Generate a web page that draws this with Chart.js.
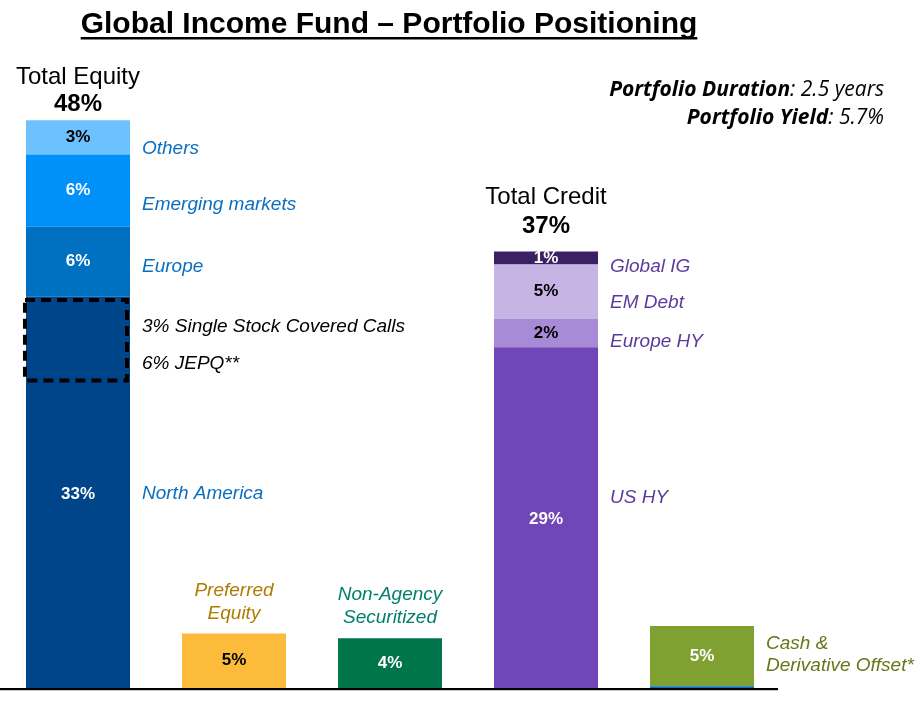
<!DOCTYPE html>
<html>
<head>
<meta charset="utf-8">
<script src="https://cdn.jsdelivr.net/npm/chart.js@4/dist/chart.umd.min.js"></script>
<style>
  html, body { margin: 0; padding: 0; background: #fff; }
  #wrap { width: 923px; height: 720px; }
</style>
</head>
<body>
<div id="wrap"><canvas id="myChart" width="923" height="720"></canvas></div>
<script>
// values, bottom segment first
var categories = ['Total Equity', 'Preferred Equity', 'Non-Agency Securitized', 'Total Credit', 'Cash & Derivative Offset'];

var equityNames = ['North America', 'Europe', 'Emerging markets', 'Others'];
var equityValues = [33.1, 5.9, 6.1, 2.9];

var creditNames = ['US HY', 'Europe HY', 'EM Debt', 'Global IG'];
var creditValues = [28.8, 2.4, 4.6, 1.1];

var singleNames = [['Preferred', 'Equity'], ['Non-Agency', 'Securitized'], ['Cash &', 'Derivative Offset*']];
var singleValues = [4.6, 4.2, 5.1];
var derivativeOffset = 0.15;

var coveredCallLines = ['3% Single Stock Covered Calls', '6% JEPQ**'];
var coveredCallRange = [26.0, 32.8];

var portfolioDuration = '2.5 years';
var portfolioYield = '5.7%';

var chartTitle = 'Global Income Fund \u2013 Portfolio Positioning';

// styles
var equityColors = ['#00458a', '#0070c0', '#0090fa', '#6ec1ff'];
var equityText = ['#fff', '#fff', '#fff', '#000'];
var creditColors = ['#7046b8', '#a88bd6', '#c6b4e4', '#3b2161'];
var creditText = ['#fff', '#000', '#000', '#fff'];
var singleColors = ['#fdbb3b', '#00754c', '#7ea132'];
var singleText = ['#000', '#fff', '#fff'];
var singleLabelColors = ['#b07b00', '#00806a', '#66771a'];
var equityLabelColor = '#0a6fc0';
var creditLabelColor = '#5c3b9c';

var ARIAL = '"Liberation Sans", Arial, sans-serif';

function seriesAt(index, value) {
    var arr = categories.map(function() { return null; });
    arr[index] = value;
    return arr;
}

var datasets = [];
equityValues.forEach(function(v, i) {
    datasets.push({ label: equityNames[i], data: seriesAt(0, v), backgroundColor: equityColors[i],
        textColor: equityText[i], sideLabel: equityNames[i], sideColor: equityLabelColor, cat: 0 });
});
datasets.push({ label: 'Preferred Equity', data: seriesAt(1, singleValues[0]), backgroundColor: singleColors[0],
    textColor: singleText[0], cat: 1 });
datasets.push({ label: 'Non-Agency Securitized', data: seriesAt(2, singleValues[1]), backgroundColor: singleColors[1],
    textColor: singleText[1], cat: 2 });
creditValues.forEach(function(v, i) {
    datasets.push({ label: creditNames[i], data: seriesAt(3, v), backgroundColor: creditColors[i],
        textColor: creditText[i], sideLabel: creditNames[i], sideColor: creditLabelColor, cat: 3 });
});
datasets.push({ label: 'Derivative Offset', data: seriesAt(4, derivativeOffset), backgroundColor: '#0a6fc0',
    noText: true, cat: 4 });
datasets.push({ label: 'Cash', data: seriesAt(4, singleValues[2]), backgroundColor: singleColors[2],
    textColor: singleText[2], cat: 4 });

datasets.forEach(function(ds) {
    ds.stack = 'all';
    ds.borderWidth = 0;
    ds.barPercentage = 1;
    ds.categoryPercentage = 104 / 156;
});

// label nudges (px) for the side texts, matching the slide
var sideNudge = {
    'Others': 11, 'Emerging markets': 14, 'Europe': 5, 'North America': 2,
    'Global IG': 9, 'EM Debt': 11, 'Europe HY': 9, 'US HY': -20
};
var valueNudge = { 'North America': 2, 'US HY': 2 };

var sum = function(a) { return a.reduce(function(s, v) { return s + v; }, 0); };

var overlay = {
    id: 'overlay',
    afterDatasetsDraw: function(chart) {
        var ctx = chart.ctx;
        var area = chart.chartArea;
        var y = chart.scales.y;
        ctx.save();
        ctx.textBaseline = 'middle';

        // values inside the bars
        chart.data.datasets.forEach(function(ds, i) {
            if (ds.noText) return;
            var el = chart.getDatasetMeta(i).data[ds.cat];
            var v = ds.data[ds.cat];
            var cy = (el.y + el.base) / 2 + (valueNudge[ds.label] || 0);
            ctx.font = 'bold 17px ' + ARIAL;
            ctx.fillStyle = ds.textColor;
            ctx.textAlign = 'center';
            ctx.fillText(Math.round(v) + '%', el.x, cy);

            if (ds.sideLabel) {
                ctx.font = 'italic 19px ' + ARIAL;
                ctx.fillStyle = ds.sideColor;
                ctx.textAlign = 'left';
                ctx.fillText(ds.sideLabel, el.x + el.width / 2 + 12, (el.y + el.base) / 2 + (sideNudge[ds.label] || 0));
            }
        });

        // group headers
        var heads = [
            { cat: 0, name: 'Total Equity', total: sum(equityValues), gapName: 43, gapTotal: 16 },
            { cat: 3, name: 'Total Credit', total: sum(creditValues), gapName: 54, gapTotal: 25 }
        ];
        heads.forEach(function(h) {
            var meta = chart.getDatasetMeta(0).data[h.cat];
            var top = y.getPixelForValue(h.total);
            ctx.fillStyle = '#000';
            ctx.textAlign = 'center';
            ctx.font = '24px ' + ARIAL;
            ctx.fillText(h.name, meta.x, top - h.gapName);
            ctx.font = 'bold 24px ' + ARIAL;
            ctx.fillText(Math.round(h.total) + '%', meta.x, top - h.gapTotal);
        });

        // names over / beside single bars
        ctx.font = 'italic 19px ' + ARIAL;
        [1, 2].forEach(function(cat, k) {
            var el = chart.getDatasetMeta(0).data[cat];
            var top = y.getPixelForValue(singleValues[k]);
            ctx.fillStyle = singleLabelColors[k];
            ctx.textAlign = 'center';
            var lift = k === 0 ? 43 : 44;
            ctx.fillText(singleNames[k][0], el.x, top - lift);
            ctx.fillText(singleNames[k][1], el.x, top - lift + 23);
        });
        var cashEl = chart.getDatasetMeta(0).data[4];
        ctx.fillStyle = singleLabelColors[2];
        ctx.textAlign = 'left';
        var cashTop = y.getPixelForValue(singleValues[2] + derivativeOffset);
        ctx.fillText(singleNames[2][0], cashEl.x + cashEl.width / 2 + 12, cashTop + 18);
        ctx.fillText(singleNames[2][1], cashEl.x + cashEl.width / 2 + 12, cashTop + 40);

        // dashed box for covered calls inside North America
        var na = chart.getDatasetMeta(0).data[0];
        var bTop = y.getPixelForValue(coveredCallRange[1]);
        var bBot = y.getPixelForValue(coveredCallRange[0]);
        var left = na.x - na.width / 2 - 1;
        var right = na.x + na.width / 2 - 3;
        ctx.strokeStyle = '#000';
        ctx.lineWidth = 4;
        ctx.setLineDash([10, 6]);
        ctx.strokeRect(left, bTop, right - left, bBot - bTop);
        ctx.setLineDash([]);
        ctx.fillStyle = '#000';
        ctx.font = 'italic 19px ' + ARIAL;
        var mid = (bTop + bBot) / 2;
        ctx.fillText(coveredCallLines[0], na.x + na.width / 2 + 12, mid - 13);
        ctx.fillText(coveredCallLines[1], na.x + na.width / 2 + 12, mid + 24);

        // baseline
        var base = y.getPixelForValue(0);
        ctx.strokeStyle = '#c8c8c8';
        ctx.lineWidth = 1;
        ctx.beginPath();
        ctx.moveTo(area.left, base + 2.5);
        ctx.lineTo(area.right - 2, base + 2.5);
        ctx.stroke();
        ctx.strokeStyle = '#000';
        ctx.lineWidth = 2;
        ctx.beginPath();
        ctx.moveTo(area.left, base + 1);
        ctx.lineTo(area.right - 2, base + 1);
        ctx.stroke();

        // title
        ctx.fillStyle = '#000';
        ctx.textAlign = 'center';
        ctx.textBaseline = 'alphabetic';
        ctx.font = 'bold 30px ' + ARIAL;
        var tx = 389;
        var tw = ctx.measureText(chartTitle).width;
        ctx.fillText(chartTitle, tx, 33);
        ctx.fillRect(tx - tw / 2, 37, tw, 2.5);

        // portfolio stats, right aligned
        var statRows = [['Portfolio Duration', ': ' + portfolioDuration, 96], ['Portfolio Yield', ': ' + portfolioYield, 124]];
        statRows.forEach(function(r) {
            var xr = 884;
            ctx.textAlign = 'right';
            ctx.font = 'italic 21px "Open Sans", Lato, sans-serif';
            var w2 = ctx.measureText(r[1]).width;
            ctx.fillText(r[1], xr, r[2]);
            ctx.font = 'italic bold 21px "Open Sans", Lato, sans-serif';
            ctx.fillText(r[0], xr - w2, r[2]);
        });
        ctx.restore();
    }
};

var config = {
    type: 'bar',
    data: { labels: categories, datasets: datasets },
    options: {
        responsive: false,
        animation: false,
        layout: { padding: { top: 96.5, bottom: 32, left: 0, right: 143 } },
        scales: {
            x: { stacked: true, display: false },
            y: { stacked: true, display: false, min: 0, max: 50 }
        },
        plugins: {
            legend: { display: false },
            tooltip: { enabled: false }
        }
    },
    plugins: [overlay]
};

window.myChart = new Chart(document.getElementById('myChart').getContext('2d'), config);
</script>
</body>
</html>
